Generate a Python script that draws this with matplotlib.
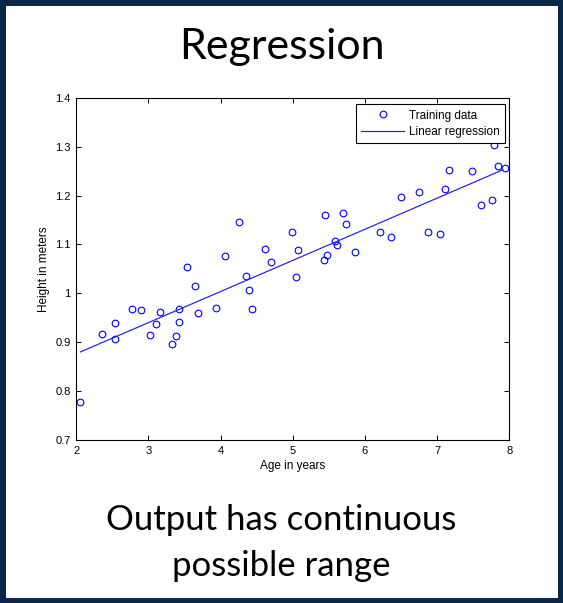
import matplotlib
matplotlib.use("Agg")
import matplotlib.pyplot as plt
from matplotlib.patches import Rectangle

# ---- data ----
age = [2.056, 2.361, 2.542, 2.542, 2.778, 2.899, 3.028, 3.111, 3.153, 3.333,
       3.375, 3.417, 3.417, 3.528, 3.639, 3.681, 3.931, 4.056, 4.250, 4.347,
       4.389, 4.431, 4.611, 4.694, 4.986, 5.042, 5.069, 5.431, 5.472, 5.444,
       5.583, 5.611, 5.694, 5.736, 5.861, 6.214, 6.361, 6.500, 6.750, 6.875,
       7.042, 7.103, 7.167, 7.486, 7.611, 7.764, 7.792, 7.847, 7.944]
height = [0.778, 0.916, 0.939, 0.906, 0.967, 0.965, 0.914, 0.938, 0.961, 0.897,
          0.912, 0.967, 0.942, 1.053, 1.014, 0.959, 0.969, 1.076, 1.146, 1.036,
          1.007, 0.967, 1.091, 1.064, 1.125, 1.033, 1.088, 1.069, 1.078, 1.161,
          1.106, 1.098, 1.165, 1.141, 1.084, 1.125, 1.116, 1.197, 1.207, 1.125,
          1.122, 1.213, 1.252, 1.250, 1.180, 1.191, 1.303, 1.260, 1.256]
fit_x = [2.056, 7.910]
fit_y = [0.880, 1.2525]

xticks = [2, 3, 4, 5, 6, 7, 8]
yticks = [0.7, 0.8, 0.9, 1.0, 1.1, 1.2, 1.3, 1.4]
yticklabels = ["0.7", "0.8", "0.9", "1", "1.1", "1.2", "1.3", "1.4"]

W, H = 563, 603
fig = plt.figure(figsize=(W / 100, H / 100), dpi=100)
fig.patch.set_facecolor("white")

# dark navy frame
navy = "#0b2748"
bw = 5.5
fig.patches.append(Rectangle((0, 0), 1, 1, transform=fig.transFigure,
                             facecolor="none", edgecolor=navy,
                             linewidth=bw * 2 * 72 / 100, zorder=10))

ax = fig.add_axes([76.3 / W, 1 - 440 / H, 433 / W, 342.3 / H])
ax.plot(age, height, linestyle="none", marker="o", markersize=4.8,
        markerfacecolor="none", markeredgecolor="#0000ff", markeredgewidth=0.8,
        label="Training data", clip_on=False)
ax.plot(fit_x, fit_y, color="#1a1aff", linewidth=0.85, label="Linear regression")

ax.set_xlim(2, 8)
ax.set_ylim(0.7, 1.4)
ax.set_xticks(xticks)
ax.set_yticks(yticks)
ax.set_yticklabels(yticklabels)
ax.tick_params(direction="in", length=3.5, width=0.7, top=True, right=True,
               labelsize=8, pad=4, colors="black")
for s in ax.spines.values():
    s.set_linewidth(0.8)
    s.set_color("black")
for lab in ax.get_xticklabels() + ax.get_yticklabels():
    lab.set_fontfamily("Liberation Sans")

ax.set_xlabel("Age in years", fontsize=8.5, family="Liberation Sans", labelpad=3)
ax.set_ylabel("Height in meters", fontsize=8.5, family="Liberation Sans", labelpad=3.5)

leg = ax.legend(loc="upper right", bbox_to_anchor=(1 - 4 / 433, 1 - 6.6 / 342.3),
                borderaxespad=0, fancybox=False, framealpha=1, edgecolor="black",
                prop={"family": "Liberation Sans", "size": 8.5},
                handlelength=3.6, handletextpad=0.45, borderpad=0.45,
                labelspacing=0.35, numpoints=1)
leg.get_frame().set_linewidth(0.8)

fig.text(0.5, 1 - 59 / H, "Regression", ha="center", va="baseline",
         fontsize=31, family="Lato", color="black")
fig.text(0.5, 1 - 530 / H, "Output has continuous", ha="center", va="baseline",
         fontsize=25, family="Lato", color="black")
fig.text(0.5, 1 - 576 / H, "possible range", ha="center", va="baseline",
         fontsize=25, family="Lato", color="black")

fig.savefig("out.png", dpi=100, facecolor="white")
